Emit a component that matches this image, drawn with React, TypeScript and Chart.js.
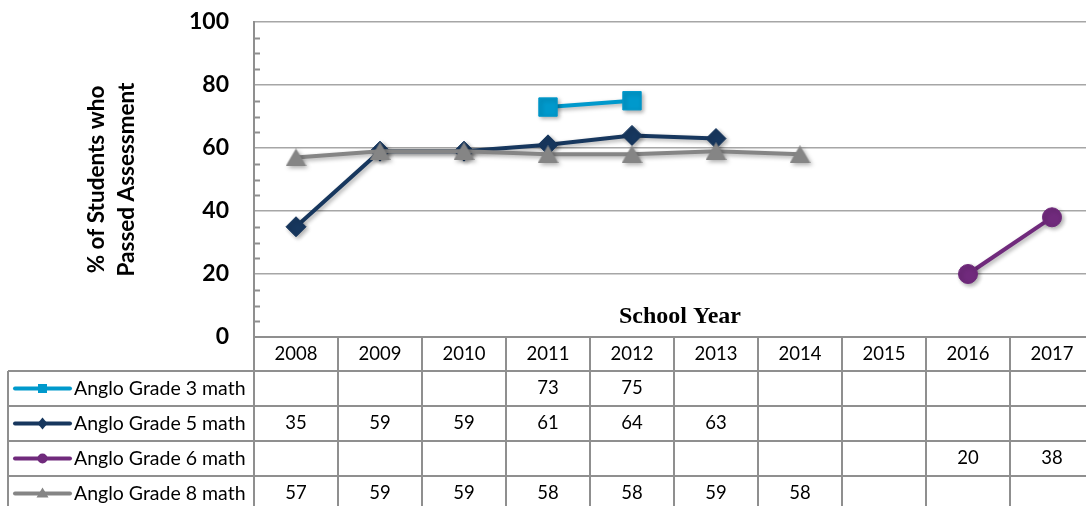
import React, { useEffect, useRef } from 'react';
import { Chart, registerables } from 'chart.js';

Chart.register(...registerables);

// School years shown on the category axis and as table column headers
const years = ['2008', '2009', '2010', '2011', '2012', '2013', '2014', '2015', '2016', '2017'];

// Percent of students who passed, per series (null = no assessment that year)
const grade3 = [null, null, null, 73, 75, null, null, null, null, null];
const grade5 = [35, 59, 59, 61, 64, 63, null, null, null, null];
const grade6 = [null, null, null, null, null, null, null, null, 20, 38];
const grade8 = [57, 59, 59, 58, 58, 59, 58, null, null, null];

const seriesNames = ['Anglo Grade 3 math', 'Anglo Grade 5 math', 'Anglo Grade 6 math', 'Anglo Grade 8 math'];
const seriesColors = ['#0099CC', '#17375E', '#702A7C', '#858585'];

const yTickStep = 20;
const yMin = 0;
const yMax = 100;
const yMinorStep = 5;

const axisTitle = ['% of Students who', 'Passed Assessment'];
const xTitle = 'School Year';

const LINE_GRAY = '#8f8f8f';

function makeTriangle(color: string, w: number, h: number): HTMLCanvasElement {
  const c = document.createElement('canvas');
  c.width = w;
  c.height = h;
  const g = c.getContext('2d')!;
  g.fillStyle = color;
  g.beginPath();
  g.moveTo(w / 2, 0);
  g.lineTo(w, h);
  g.lineTo(0, h);
  g.closePath();
  g.fill();
  return c;
}

function drawKeyMarker(ctx: CanvasRenderingContext2D, kind: number, x: number, y: number, color: string) {
  ctx.fillStyle = color;
  ctx.beginPath();
  if (kind === 0) {
    ctx.rect(x - 4.5, y - 4.5, 9, 9);
  } else if (kind === 1) {
    ctx.moveTo(x, y - 6);
    ctx.lineTo(x + 5, y);
    ctx.lineTo(x, y + 6);
    ctx.lineTo(x - 5, y);
    ctx.closePath();
  } else if (kind === 2) {
    ctx.arc(x, y, 5, 0, Math.PI * 2);
  } else {
    ctx.moveTo(x, y - 6);
    ctx.lineTo(x + 6, y + 4);
    ctx.lineTo(x - 6, y + 4);
    ctx.closePath();
  }
  ctx.fill();
}

// Minor tick marks on the inner side of the value axis
const minorTicks = {
  id: 'minorTicks',
  beforeDatasetsDraw(chart: any) {
    const { ctx, chartArea: ca, scales } = chart;
    const y = scales.y;
    ctx.save();
    ctx.strokeStyle = LINE_GRAY;
    ctx.lineWidth = 2;
    for (let v = yMin + yMinorStep; v < yMax; v += yMinorStep) {
      if (v % yTickStep === 0) continue;
      const py = Math.round(y.getPixelForValue(v)) + 0.5;
      ctx.beginPath();
      ctx.moveTo(ca.left, py);
      ctx.lineTo(ca.left + 6, py);
      ctx.stroke();
    }
    ctx.restore();
  },
};

// Soft drop shadow under the series lines and markers
const seriesShadow = {
  id: 'seriesShadow',
  beforeDatasetsDraw(chart: any) {
    const ctx = chart.ctx;
    ctx.save();
    ctx.shadowColor = 'rgba(0,0,0,0.32)';
    ctx.shadowBlur = 4;
    ctx.shadowOffsetX = 2;
    ctx.shadowOffsetY = 2;
  },
  afterDatasetsDraw(chart: any) {
    chart.ctx.restore();
  },
};

// Data table under the plot, aligned to the category columns
const dataTable = {
  id: 'dataTable',
  afterDraw(chart: any) {
    const { ctx, chartArea: ca, scales } = chart;
    const xs = scales.x;
    const n = years.length;
    const colW = (ca.right - ca.left) / n;
    const headerTop = ca.bottom;
    const headerH = 34;
    const rowH = 35;
    const tableLeft = 8;
    const rowsTop = headerTop + headerH;
    const rows = chart.data.datasets.length;
    const tableBottom = rowsTop + rowH * rows;

    ctx.save();
    ctx.strokeStyle = LINE_GRAY;
    ctx.lineWidth = 2;
    const seg = (x1: number, y1: number, x2: number, y2: number) => {
      ctx.beginPath();
      ctx.moveTo(x1, y1);
      ctx.lineTo(x2, y2);
      ctx.stroke();
    };
    seg(ca.left, headerTop, ca.right + 2, headerTop);
    for (let r = 0; r <= rows; r++) {
      const yy = rowsTop + r * rowH;
      seg(tableLeft, yy, ca.right + 2, yy);
    }
    seg(tableLeft, rowsTop, tableLeft, tableBottom);
    for (let c = 0; c <= n; c++) {
      const xx = ca.left + c * colW;
      seg(xx, headerTop - 1, xx, tableBottom);
    }

    ctx.fillStyle = '#000';
    ctx.textBaseline = 'middle';
    ctx.textAlign = 'center';
    ctx.font = '18.5px Lato';
    years.forEach((yr, i) => {
      ctx.fillText(yr, xs.getPixelForValue(i), headerTop + headerH / 2);
    });

    chart.data.datasets.forEach((ds: any, r: number) => {
      const cy = rowsTop + r * rowH + rowH / 2;
      ctx.textAlign = 'center';
      ctx.font = '18.5px Lato';
      ctx.fillStyle = '#000';
      ds.data.forEach((v: number | null, i: number) => {
        if (v === null) return;
        ctx.fillText(String(v), xs.getPixelForValue(i), cy);
      });
      // legend key
      ctx.strokeStyle = ds.borderColor;
      ctx.lineWidth = 4;
      ctx.lineCap = 'round';
      seg(15, cy, 70, cy);
      ctx.lineCap = 'butt';
      drawKeyMarker(ctx, r, 42.5, cy, ds.borderColor);
      ctx.strokeStyle = LINE_GRAY;
      ctx.lineWidth = 2;
      ctx.fillStyle = '#000';
      ctx.textAlign = 'left';
      ctx.font = '19.5px Lato';
      ctx.fillText(ds.label, 74, cy);
    });

    // category axis title, sitting inside the plot area
    ctx.font = 'bold 24px "Liberation Serif"';
    ctx.textAlign = 'center';
    ctx.textBaseline = 'alphabetic';
    ctx.fillText(xTitle, (ca.left + ca.right) / 2 + 6, ca.bottom - 14);
    ctx.restore();
  },
};

export default function App() {
  const ref = useRef<HTMLCanvasElement | null>(null);

  useEffect(() => {
    if (!ref.current) return;
    const tri = makeTriangle(seriesColors[3], 21, 18);
    const chart = new Chart(ref.current, {
      type: 'line',
      data: {
        labels: years,
        datasets: [
          {
            label: seriesNames[0],
            data: grade3,
            borderColor: seriesColors[0],
            backgroundColor: seriesColors[0],
            pointStyle: 'rect',
            pointRadius: 13,
            pointBorderWidth: 1,
            borderWidth: 4,
            order: 4,
          },
          {
            label: seriesNames[1],
            data: grade5,
            borderColor: seriesColors[1],
            backgroundColor: seriesColors[1],
            pointStyle: 'rectRot',
            pointRadius: 10,
            pointBorderWidth: 1,
            borderWidth: 4,
            order: 3,
          },
          {
            label: seriesNames[2],
            data: grade6,
            borderColor: seriesColors[2],
            backgroundColor: seriesColors[2],
            pointStyle: 'circle',
            pointRadius: 9.5,
            pointBorderWidth: 1,
            borderWidth: 4,
            order: 2,
          },
          {
            label: seriesNames[3],
            data: grade8,
            borderColor: seriesColors[3],
            backgroundColor: seriesColors[3],
            pointStyle: tri,
            pointRadius: 10,
            pointBorderWidth: 0,
            borderWidth: 4,
            order: 1,
          },
        ],
      },
      options: {
        responsive: false,
        animation: false,
        events: [],
        layout: { autoPadding: false, padding: { left: 0, top: 22, right: 6, bottom: 175 } },
        plugins: {
          legend: { display: false },
          tooltip: { enabled: false },
        },
        scales: {
          x: {
            type: 'category',
            display: false,
            offset: true,
          },
          y: {
            min: yMin,
            max: yMax,
            afterFit: (scale: any) => {
              scale.width = 254;
            },
            ticks: {
              stepSize: yTickStep,
              color: '#000',
              padding: 0,
              font: { family: 'Lato', weight: 'bold', size: 23 },
            },
            grid: {
              color: '#a6a6a6',
              lineWidth: 1.5,
              drawTicks: true,
              tickLength: 25,
              tickColor: 'rgba(0,0,0,0)',
            },
            border: { display: true, color: LINE_GRAY, width: 2 },
            title: {
              display: true,
              text: axisTitle,
              color: '#000',
              font: { family: 'Lato', weight: 'bold', size: 22.5, lineHeight: 1.333 },
              padding: { top: 82, bottom: 0 },
            },
          },
        },
      },
      plugins: [minorTicks, seriesShadow, dataTable],
    });
    return () => chart.destroy();
  }, []);

  return (
    <div style={{ position: 'fixed', left: 0, top: 0, width: 1086, height: 506, overflow: 'hidden', background: '#fff' }}>
      <canvas ref={ref} width={1100} height={512} style={{ display: 'block' }} />
    </div>
  );
}
